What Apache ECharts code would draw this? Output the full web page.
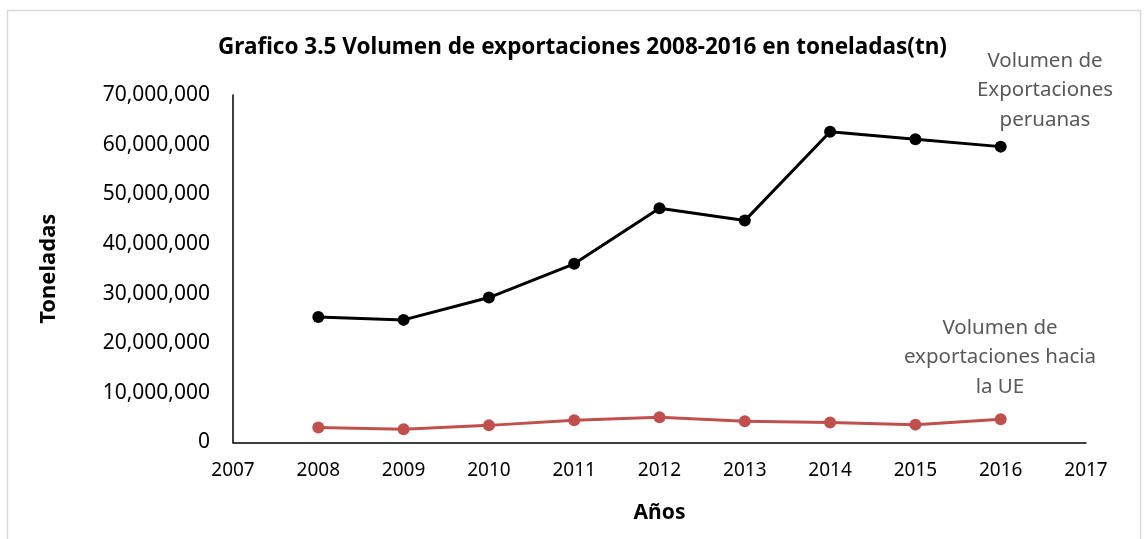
<!DOCTYPE html>
<html lang="es">
<head>
    <meta charset="UTF-8">
    <title>Volumen de exportaciones 2008-2016</title>
    <script src="https://cdn.jsdelivr.net/npm/echarts@6/dist/echarts.min.js"></script>
    <style>
        html, body { margin: 0; padding: 0; background: #fff; }
        #chart { width: 1145px; height: 539px; }
    </style>
</head>
<body>
    <div id="chart"></div>
    <script>
        // datos
        const years = [2008, 2009, 2010, 2011, 2012, 2013, 2014, 2015, 2016];
        const peruTotal = [25300000, 24700000, 29200000, 36000000, 47200000, 44700000, 62600000, 61100000, 59600000];
        const haciaUE = [3000000, 2650000, 3450000, 4500000, 5100000, 4300000, 4050000, 3600000, 4700000];
        const yTicks = [0, 10000000, 20000000, 30000000, 40000000, 50000000, 60000000, 70000000];

        const font = '"Noto Sans", "Open Sans", sans-serif';
        const chart = echarts.init(document.getElementById('chart'));

        const option = {
            animation: false,
            title: {
                text: 'Grafico 3.5 Volumen de exportaciones 2008-2016 en toneladas(tn)',
                left: 213,
                top: 31,
                textStyle: { fontFamily: font, fontSize: 22.5, fontWeight: 'bold', color: '#000' }
            },
            grid: { left: 233, right: 59, top: 95, bottom: 96.5 },
            xAxis: {
                type: 'value',
                min: 2007,
                max: 2017,
                interval: 1,
                name: 'Años',
                nameLocation: 'middle',
                nameGap: 60,
                nameTextStyle: { fontFamily: font, fontSize: 21, fontWeight: 'bold', color: '#000' },
                axisLine: { show: true, lineStyle: { color: '#000', width: 1.5 } },
                axisTick: { show: false },
                splitLine: { show: false },
                axisLabel: {
                    margin: 19,
                    fontFamily: font, fontSize: 19, color: '#000',
                    formatter: v => String(v)
                }
            },
            yAxis: {
                type: 'value',
                min: yTicks[0],
                max: yTicks[yTicks.length - 1],
                interval: 10000000,
                name: 'Toneladas',
                nameLocation: 'middle',
                nameRotate: 90,
                nameGap: 173,
                nameTextStyle: { fontFamily: font, fontSize: 22, fontWeight: 'bold', color: '#000' },
                axisLine: { show: true, lineStyle: { color: '#000', width: 1.5 } },
                axisTick: { show: false },
                splitLine: { show: false },
                axisLabel: {
                    margin: 23,
                    fontFamily: font, fontSize: 21, color: '#000',
                    formatter: v => v.toLocaleString('en-US')
                }
            },
            series: [
                {
                    name: 'Volumen de Exportaciones peruanas',
                    type: 'line',
                    data: years.map((y, i) => [y, peruTotal[i]]),
                    symbol: 'circle',
                    symbolSize: 12,
                    lineStyle: { color: '#000', width: 3 },
                    itemStyle: { color: '#000' }
                },
                {
                    name: 'Volumen de exportaciones hacia la UE',
                    type: 'line',
                    data: years.map((y, i) => [y, haciaUE[i]]),
                    symbol: 'circle',
                    symbolSize: 12,
                    lineStyle: { color: '#C0504D', width: 3 },
                    itemStyle: { color: '#C0504D' }
                }
            ],
            graphic: [
                {
                    type: 'rect',
                    shape: { x: 7.5, y: 10.5, width: 1133, height: 560 },
                    style: { fill: 'none', stroke: '#d9d9d9', lineWidth: 1.5 },
                    silent: true
                },
                {
                    type: 'text',
                    x: 1045, y: 46,
                    style: {
                        text: 'Volumen de\nExportaciones\nperuanas',
                        align: 'center',
                        fill: '#595959',
                        font: '20.5px ' + font,
                        lineHeight: 29.5
                    }
                },
                {
                    type: 'text',
                    x: 1000, y: 313,
                    style: {
                        text: 'Volumen de\nexportaciones hacia\nla UE',
                        align: 'center',
                        fill: '#595959',
                        font: '20.5px ' + font,
                        lineHeight: 29.5
                    }
                }
            ]
        };

        chart.setOption(option);
    </script>
</body>
</html>
